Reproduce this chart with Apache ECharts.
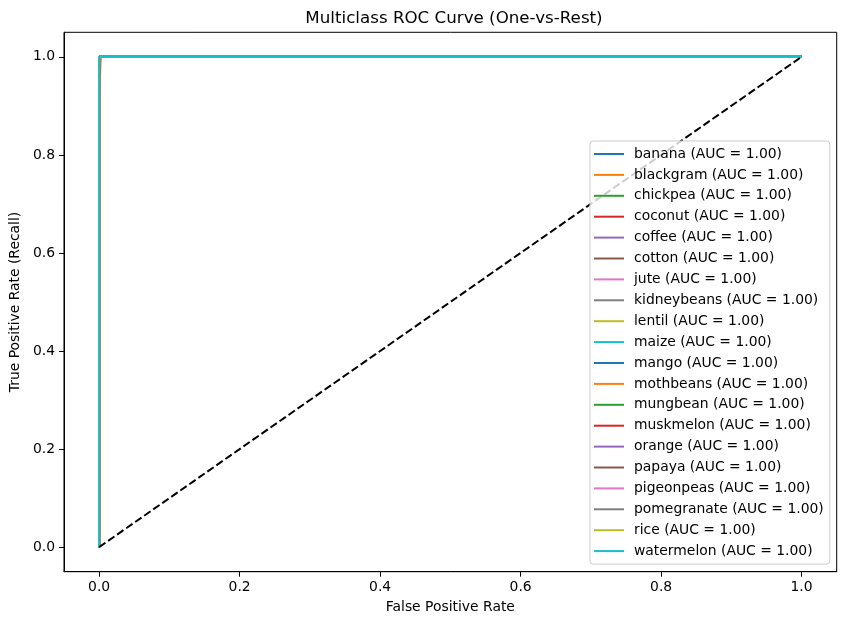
<!DOCTYPE html>
<html>
<head>
<meta charset="utf-8">
<script src="https://cdn.jsdelivr.net/npm/echarts@6/dist/echarts.min.js"></script>
<style>
html,body{margin:0;padding:0;background:#fff;}
#chart{width:846px;height:624px;}
</style>
</head>
<body>
<div id="chart"></div>
<script>
const classNames = ["banana","blackgram","chickpea","coconut","coffee","cotton","jute","kidneybeans","lentil","maize","mango","mothbeans","mungbean","muskmelon","orange","papaya","pigeonpeas","pomegranate","rice","watermelon"];
const aucValues = [1.00,1.00,1.00,1.00,1.00,1.00,1.00,1.00,1.00,1.00,1.00,1.00,1.00,1.00,1.00,1.00,1.00,1.00,1.00,1.00];
// ROC points: perfect classifiers share this curve
const fprPerfect = [0, 0, 1];
const tprPerfect = [0, 1, 1];
// blackgram has one small false positive step
const fprBlackgram = [0, 0, 0.0025, 0.0025, 1];
const tprBlackgram = [0, 0.92, 0.92, 1, 1];
const fprChance = [0, 1];
const tprChance = [0, 1];
const tickValues = [0, 0.2, 0.4, 0.6, 0.8, 1.0];
const palette = ['#1f77b4','#ff7f0e','#2ca02c','#d62728','#9467bd','#8c564b','#e377c2','#7f7f7f','#bcbd22','#17becf'];

function pairs(xs, ys){ return xs.map((x,i)=>[x, ys[i]]); }

const series = classNames.map((name, i) => {
  const isBG = name === 'blackgram';
  return {
    name: name + ' (AUC = ' + aucValues[i].toFixed(2) + ')',
    type: 'line',
    data: isBG ? pairs(fprBlackgram, tprBlackgram) : pairs(fprPerfect, tprPerfect),
    showSymbol: false, symbol: 'none',
    lineStyle: { width: 2, color: palette[i % 10] },
    itemStyle: { color: palette[i % 10] },
    z: 2
  };
});
series.push({
  name: 'chance', type: 'line', data: pairs(fprChance, tprChance),
  showSymbol: false, symbol: 'none',
  lineStyle: { width: 2, color: '#000', type: [7.7, 3.3] },
  itemStyle: { color: '#000' }, z: 3
});

const font = 'DejaVu Sans';
const chart = echarts.init(document.getElementById('chart'), null, {renderer: 'canvas'});
chart.setOption({
  animation: false,
  backgroundColor: '#fff',
  textStyle: { fontFamily: font },
  title: {
    text: 'Multiclass ROC Curve (One-vs-Rest)',
    left: 449, top: 5, textAlign: 'center',
    textStyle: { fontFamily: font, fontSize: 16.7, fontWeight: 'normal', color: '#000' }
  },
  grid: { left: 61.7, right: 9.3, top: 32.3, bottom: 52.3, show: true, borderColor: '#000', borderWidth: 1, backgroundColor: 'transparent' },
  legend: {
    data: series.slice(0, classNames.length).map(s => s.name),
    orient: 'vertical', left: 590, top: 141,
    padding: [5, 6, 5, 4],
    itemWidth: 30, itemHeight: 2, icon: 'rect', itemGap: 4.9,
    backgroundColor: 'rgba(255,255,255,0.8)', borderColor: '#cccccc', borderWidth: 1, borderRadius: 3,
    textStyle: { fontFamily: font, fontSize: 13.9, color: '#000', lineHeight: 16, padding: [0,0,0,5] },
    selectedMode: false
  },
  xAxis: {
    type: 'value', min: -0.05, max: 1.05,
    name: 'False Positive Rate', nameLocation: 'middle', nameGap: 29,
    nameTextStyle: { fontFamily: font, fontSize: 13.9, color: '#000' },
    axisLine: { show: true, onZero: false, lineStyle: { color: '#000', width: 1 } },
    axisTick: { show: true, length: 5, lineStyle: { color: '#000', width: 1 }, customValues: tickValues },
    axisLabel: { color: '#000', fontFamily: font, fontSize: 13.9, margin: 9, customValues: tickValues, formatter: v => v.toFixed(1) },
    splitLine: { show: false }
  },
  yAxis: {
    type: 'value', min: -0.05, max: 1.05,
    name: 'True Positive Rate (Recall)', nameLocation: 'middle', nameGap: 36,
    nameTextStyle: { fontFamily: font, fontSize: 13.9, color: '#000' },
    axisLine: { show: true, onZero: false, lineStyle: { color: '#000', width: 1 } },
    axisTick: { show: true, length: 5, lineStyle: { color: '#000', width: 1 }, customValues: tickValues },
    axisLabel: { color: '#000', fontFamily: font, fontSize: 13.9, margin: 9, customValues: tickValues, formatter: v => v.toFixed(1) },
    splitLine: { show: false }
  },
  series: series
});
</script>
</body>
</html>
